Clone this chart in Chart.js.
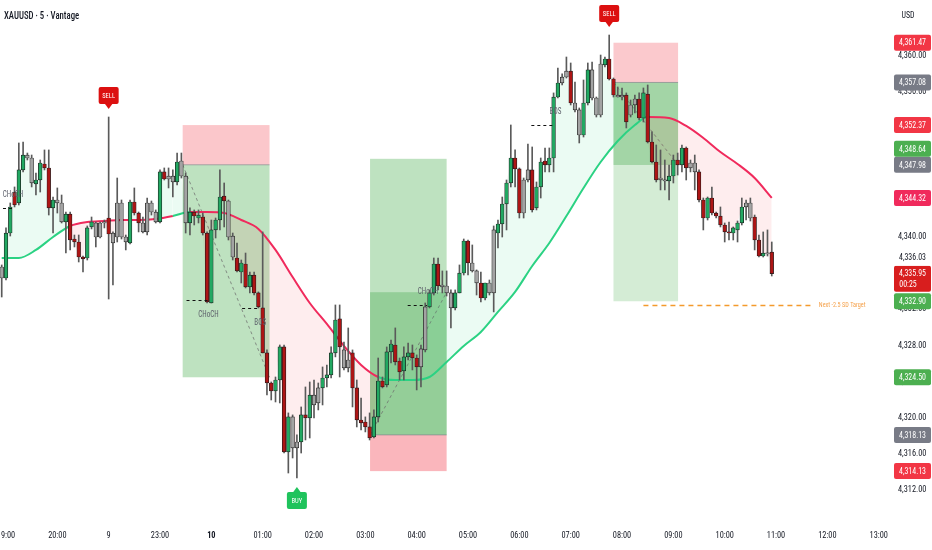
<!DOCTYPE html>
<html>
<head>
<meta charset="utf-8">
<script src="https://cdn.jsdelivr.net/npm/chart.js@4.4.1/dist/chart.umd.min.js"></script>
<style>
html,body{margin:0;padding:0;background:#ffffff;overflow:hidden;}
#wrap{position:relative;width:932px;height:550px;}
canvas{display:block;}
</style>
</head>
<body>
<div id="wrap"><canvas id="chart" width="932" height="550"></canvas></div>
<script>
// ---------- DATA (5-minute candles, index 0 = 19:00) ----------
const firstIndex = -1;
const timeLabels = ['19:00','20:00','9','23:00','10','01:00','02:00','03:00','04:00','05:00','06:00','07:00','08:00','09:00','10:00','11:00','12:00','13:00'];
const priceTicks = [4312,4316,4320,4324,4328,4332,4336,4340,4344,4348,4352,4356,4360];

const opens = [
4336.69,4335.47,4340.44,4344.97,4343.76,4347.41,4349.06,4348.73,4345.86,4346.30,
4348.07,4347.63,4343.21,4344.09,4343.76,4341.66,4342.54,4339.78,4339.45,4337.79,
4337.68,4341.11,4341.55,4340.00,4341.55,4342.10,4340.44,4340.00,4343.76,4340.00,
4339.34,4343.87,4342.65,4341.55,4340.56,4343.76,4342.76,4341.66,4347.19,4346.41,
4346.74,4346.08,4348.40,4346.74,4341.55,4342.76,4342.10,4342.21,4340.44,4332.71,
4340.78,4341.88,4344.53,4343.98,4340.11,4337.68,4336.13,4337.02,4334.48,4335.80,
4333.82,4332.16,4327.19,4323.87,4322.99,4324.20,4327.85,4316.25,4320.12,4316.69,
4317.35,4320.34,4320.00,4322.54,4321.66,4323.32,4324.42,4324.76,4327.19,4330.95,
4327.52,4325.53,4327.19,4323.32,4319.78,4319.56,4319.01,4317.90,4320.12,4324.09,
4323.65,4327.30,4328.07,4326.30,4325.20,4326.75,4327.19,4326.63,4325.64,4327.52,
4332.27,4333.82,4337.02,4334.70,4334.59,4333.82,4332.16,4333.82,4336.02,4339.56,
4337.13,4336.25,4334.92,4333.26,4334.92,4333.82,4340.44,4341.44,4343.65,4345.97,
4348.73,4347.52,4342.65,4346.30,4347.41,4343.21,4345.53,4348.40,4347.96,4348.73,
4355.47,4357.02,4357.68,4358.34,4354.81,4354.04,4351.27,4354.81,4358.46,4355.36,
4353.48,4359.01,4359.67,4357.46,4355.69,4355.47,4355.69,4353.48,4354.59,4355.25,
4353.15,4355.80,4350.50,4348.29,4346.52,4346.30,4346.19,4346.74,4348.51,4347.96,
4349.84,4347.63,4348.18,4347.19,4344.09,4342.10,4344.31,4342.65,4342.32,4341.33,
4340.56,4340.44,4340.78,4341.55,4343.32,4343.76,4342.21,4339.67,4337.90,4338.23,
4338.34];
const highs = [
4336.91,4341.00,4343.76,4345.53,4350.39,4350.50,4349.28,4349.06,4347.07,4348.51,
4349.62,4349.62,4344.42,4345.42,4344.64,4342.76,4342.76,4340.22,4340.22,4337.90,
4341.22,4342.21,4341.66,4341.66,4341.88,4353.26,4340.56,4346.52,4344.09,4340.22,
4344.09,4345.42,4342.76,4342.21,4344.31,4343.98,4342.99,4347.41,4347.63,4347.63,
4347.41,4349.28,4349.28,4347.07,4343.21,4342.99,4342.99,4342.65,4340.56,4341.88,
4342.10,4347.41,4345.97,4344.09,4340.44,4339.34,4337.46,4338.23,4336.13,4336.13,
4333.93,4340.56,4327.52,4323.98,4324.53,4328.07,4328.07,4320.56,4320.34,4318.13,
4321.22,4323.43,4323.98,4324.20,4323.87,4325.64,4325.86,4327.85,4332.49,4332.49,
4328.40,4329.95,4327.52,4324.20,4322.21,4320.12,4320.56,4320.89,4326.63,4324.53,
4327.85,4328.62,4329.95,4326.63,4327.85,4328.29,4328.07,4326.97,4328.07,4332.71,
4334.15,4337.68,4337.68,4336.25,4336.25,4334.15,4334.15,4336.91,4339.78,4339.67,
4339.12,4336.36,4336.13,4334.92,4335.25,4341.22,4341.88,4344.42,4346.30,4352.38,
4349.62,4347.63,4346.52,4350.28,4349.95,4346.08,4348.73,4349.84,4349.84,4355.92,
4358.68,4358.02,4359.89,4359.23,4357.13,4354.26,4357.35,4359.23,4359.34,4355.47,
4360.11,4359.89,4362.32,4357.57,4356.58,4356.47,4355.92,4355.14,4355.69,4355.92,
4356.47,4356.80,4351.61,4350.17,4349.62,4348.51,4347.96,4349.06,4349.28,4350.17,
4349.95,4348.51,4349.06,4347.41,4344.31,4344.42,4345.53,4342.76,4343.32,4341.55,
4341.66,4341.11,4341.77,4344.31,4344.09,4344.31,4342.43,4340.22,4340.56,4340.78,
4339.45];
const lows = [
4333.37,4335.25,4340.11,4343.32,4343.54,4347.19,4348.51,4345.53,4344.64,4344.97,
4347.41,4342.43,4340.44,4342.65,4341.55,4338.23,4338.57,4338.90,4337.24,4336.13,
4337.46,4340.89,4338.90,4339.89,4341.00,4333.15,4334.70,4339.45,4339.78,4338.57,
4339.23,4342.43,4340.56,4340.44,4340.22,4342.43,4341.55,4341.55,4346.30,4345.42,
4344.42,4345.75,4346.52,4340.44,4340.22,4341.33,4341.55,4340.22,4332.71,4332.71,
4339.89,4340.78,4341.11,4339.67,4337.46,4336.13,4334.92,4334.37,4333.82,4333.59,
4332.16,4327.19,4322.54,4321.99,4321.77,4321.66,4316.13,4313.92,4315.58,4313.37,
4316.13,4317.57,4317.79,4320.00,4320.89,4321.44,4323.43,4324.42,4326.75,4324.53,
4325.31,4325.09,4321.22,4319.01,4318.68,4318.46,4317.57,4317.79,4319.56,4323.32,
4323.43,4326.08,4325.86,4324.20,4324.20,4326.41,4325.31,4323.10,4323.43,4327.30,
4332.16,4333.59,4334.15,4333.82,4333.48,4329.95,4331.94,4333.82,4335.80,4335.80,
4336.13,4333.59,4332.82,4333.04,4333.59,4331.72,4338.79,4340.00,4340.78,4345.53,
4345.53,4342.10,4342.10,4346.08,4342.76,4342.99,4344.31,4347.19,4347.19,4347.19,
4355.36,4356.80,4357.57,4354.59,4353.81,4350.39,4351.05,4354.59,4355.14,4353.26,
4353.26,4358.79,4357.35,4355.47,4355.47,4355.14,4352.05,4353.26,4353.70,4352.93,
4352.71,4350.39,4348.18,4346.08,4345.20,4345.20,4344.09,4345.97,4346.85,4347.19,
4346.30,4347.19,4345.20,4343.87,4340.78,4341.88,4342.43,4342.10,4341.11,4339.45,
4339.67,4339.67,4339.45,4341.33,4341.88,4341.77,4338.57,4337.79,4337.79,4337.90,
4335.69];
const closes = [
4335.47,4340.44,4343.32,4343.54,4347.41,4349.06,4348.73,4345.97,4346.30,4348.18,
4347.63,4343.21,4344.09,4343.76,4341.66,4342.54,4339.67,4339.45,4337.79,4337.57,
4341.00,4341.66,4340.00,4341.55,4341.66,4340.33,4339.34,4343.76,4340.00,4339.45,
4343.87,4342.65,4341.55,4340.56,4343.76,4342.76,4341.66,4347.19,4346.41,4346.74,
4346.08,4348.29,4346.74,4341.55,4342.76,4342.32,4342.43,4340.44,4332.82,4340.78,
4341.88,4344.42,4343.98,4340.00,4337.79,4336.25,4337.13,4334.48,4335.80,4333.82,
4332.27,4327.19,4323.87,4322.99,4324.20,4327.85,4316.25,4320.12,4316.69,4317.35,
4320.34,4320.00,4322.54,4321.44,4323.32,4324.42,4324.76,4327.19,4330.83,4327.85,
4325.53,4326.41,4323.32,4319.78,4319.45,4319.01,4317.79,4320.12,4324.09,4323.43,
4327.30,4328.18,4326.19,4325.09,4326.75,4327.19,4326.63,4325.64,4327.63,4332.27,
4333.82,4337.02,4334.59,4334.48,4333.82,4332.16,4333.82,4336.02,4339.56,4337.13,
4336.25,4334.92,4333.26,4334.92,4333.82,4340.78,4341.44,4343.65,4345.97,4348.73,
4347.52,4342.65,4346.30,4347.41,4342.99,4345.53,4348.29,4347.96,4348.73,4355.47,
4357.02,4357.68,4358.34,4354.81,4354.04,4351.27,4354.81,4358.46,4355.36,4353.48,
4359.12,4359.67,4357.46,4355.69,4355.47,4355.69,4352.71,4354.59,4355.25,4353.15,
4355.92,4350.50,4348.29,4346.30,4346.30,4346.19,4346.74,4348.51,4347.96,4349.84,
4347.63,4348.18,4347.19,4344.09,4342.10,4344.31,4342.65,4342.32,4341.33,4340.56,
4340.44,4341.00,4341.55,4343.32,4343.76,4342.10,4339.67,4337.90,4338.23,4338.12,
4335.95];
// candle colouring: g = bullish, r = bearish, n = neutral (grey)
const tones = ("nggrggnngg"+"rrgnngrrrr"+"ggnnnrnnnn"+"grrnnnngrn"+"ngnngrgrrg"+
               "ggrnnrgrgr"+"rrrrggrgnn"+"grgnnggggr"+"nnrrrrrggr"+"ggrrggrrnn"+
               "ggrnnngggr"+"nnrgnngggg"+"rrnnrggrgg"+"gnnrnnggnn"+"ngrrnnrnnr"+
               "grrrnnggrg"+"rnnrrgrrrr"+"rgggnnrrgn"+"r").split('');

// moving average
const maIdx = [-1,3,7,11,15,19,23,27,31,35,39,43,47,51,55,59,63,67,71,75,79,83,87,91,95,99,103,107,111,115,119,123,127,131,135,139,143,147,150,155,159,163,167,171,175,179];
const maValues = [4337.68,4337.68,4338.57,4340.00,4341.22,4341.66,4341.77,4341.88,4341.88,4341.99,4342.32,4342.76,4342.76,4342.65,4341.88,4340.89,4338.57,4335.58,4332.71,4330.39,4327.96,4325.86,4324.53,4324.20,4324.20,4324.53,4326.19,4327.96,4329.50,4331.72,4333.93,4336.80,4339.34,4342.32,4345.42,4348.29,4350.61,4352.38,4353.26,4353.15,4352.27,4350.94,4349.39,4348.07,4346.52,4344.32];
const maTrend = ("uuuuu"+"dddddd"+"u"+"ddddddddddd"+"uuuuuuuuuuuuuuuu"+"ddddddd").split('');

// position boxes
const boxStart    = [41.3, 85.1, 142.0];
const boxEnd      = [61.6, 103.0, 157.1];
const boxStop     = [4352.37, 4314.13, 4361.47];
const boxEntry    = [4347.98, 4318.13, 4357.08];
const boxTarget   = [4324.50, 4348.64, 4332.90];
const boxExit     = [4324.50, 4333.90, 4347.96];
const boxProgress = [null, 4333.90, 4347.96];

// structure breaks
const structStart = [-0.7, 42.2, 55.2, 93.9, 122.8];
const structEnd   = [1.4, 47.1, 59.2, 98.4, 128.2];
const structPrice = [4343.21, 4333.04, 4332.16, 4332.49, 4352.38];
const structLabel = ['CHoCH','CHoCH','BOS','CHoCH','BOS'];
const structSide  = ['above','below','below','above','above'];

// signals
const sellIdx = [24, 141];
const buyIdx  = [68];

// projected target
const nextTargetPrice = 4332.49;
const nextTargetFrom = 149;
const nextTargetTo = 188.6;
const nextTargetText = 'Next -2.5 SD Target';

// right-axis tags
const tagPrices = [4361.47,4357.08,4352.37,4348.64,4347.98,4344.32,4336.03,4335.95,4332.90,4324.50,4318.13,4314.13];
const tagKinds  = ['stop','entry','stop','target','entry','ma','plain','last','target','target','entry','stop'];
const countdownText = '00:25';
const titleText = 'XAUUSD \u00b7 5 \u00b7 Vantage';
const currencyText = 'USD';

// ---------- RENDER ----------
function fontAvailable(name){
  const c = document.createElement('canvas').getContext('2d');
  const s = 'mmmmmmmmmmlli0123456789WWabc';
  return ['monospace','serif'].some(base => {
    c.font = '40px ' + base; const w0 = c.measureText(s).width;
    c.font = "40px '" + name + "', " + base; const w1 = c.measureText(s).width;
    return Math.abs(w0 - w1) > 0.5;
  });
}
const narrowCandidates = ['Roboto Condensed','Liberation Sans Narrow','DejaVu Sans Condensed','Noto Sans Condensed','Open Sans Condensed','Arial Narrow'];
const narrow = narrowCandidates.find(fontAvailable);
const FONT = (narrow ? "'" + narrow + "'," : "") + "Roboto,'Liberation Sans',sans-serif";
const measCtx = document.createElement('canvas').getContext('2d');
measCtx.font = '9px ' + FONT;
const refW = measCtx.measureText('4,340.00').width;
const SX = Math.min(1, 27 / refW);            // horizontal condensing for hand-drawn text
const TICK_SIZE = Math.max(7.3, Math.min(9, 9 * 28.5 / refW));

const toneColor = {g:'#22a862', r:'#ad1515', n:'#a3a3a3'};
const MA_UP = '#2bd283', MA_DN = '#f02a5c';
const idx = closes.map((_, i) => firstIndex + i);
function fmt(v){ return v.toLocaleString('en-US',{minimumFractionDigits:2,maximumFractionDigits:2}); }
function rr(ctx,x,y,w,h,r){ctx.beginPath();ctx.moveTo(x+r,y);ctx.lineTo(x+w-r,y);ctx.quadraticCurveTo(x+w,y,x+w,y+r);ctx.lineTo(x+w,y+h-r);ctx.quadraticCurveTo(x+w,y+h,x+w-r,y+h);ctx.lineTo(x+r,y+h);ctx.quadraticCurveTo(x,y+h,x,y+h-r);ctx.lineTo(x,y+r);ctx.quadraticCurveTo(x,y,x+r,y);ctx.closePath();}
function cText(ctx, text, x, y, size, align, sx, weight){
  ctx.save();
  ctx.font = (weight ? weight + ' ' : '') + size + 'px ' + FONT;
  ctx.textAlign = align; ctx.textBaseline = 'middle';
  ctx.translate(x, y); ctx.scale(sx, 1);
  ctx.fillText(text, 0, 0);
  ctx.restore();
}

const tagStyle = {
  stop:{bg:'#f23645',fg:'#fff'}, entry:{bg:'#787b86',fg:'#fff'}, target:{bg:'#4caf50',fg:'#fff'},
  ma:{bg:'#f02a5c',fg:'#fff'}, plain:{bg:'#ffffff',fg:'#131722'}, last:{bg:'#d81e1e',fg:'#fff'}
};
const boxBaseAlpha = [0.36, 0.36, 0.24];
const boxStopAlpha = [0.28, 0.36, 0.27];

const overlay = {
  id:'overlay',
  beforeDatasetsDraw(chart){
    const {ctx, scales:{x,y}, chartArea:a} = chart;
    ctx.save();
    ctx.beginPath(); ctx.rect(a.left,a.top,a.right-a.left,a.bottom-a.top); ctx.clip();
    for (let i=0;i<boxStart.length;i++){
      const x0=x.getPixelForValue(boxStart[i]), x1=x.getPixelForValue(boxEnd[i]);
      const ye=y.getPixelForValue(boxEntry[i]), ys=y.getPixelForValue(boxStop[i]);
      const yt=y.getPixelForValue(boxTarget[i]), yx=y.getPixelForValue(boxExit[i]);
      ctx.fillStyle='rgba(242,54,69,'+boxStopAlpha[i]+')';
      ctx.fillRect(x0, Math.min(ye,ys), x1-x0, Math.abs(ys-ye));
      ctx.fillStyle='rgba(76,175,80,'+boxBaseAlpha[i]+')';
      ctx.fillRect(x0, Math.min(ye,yt), x1-x0, Math.abs(yt-ye));
      if (boxProgress[i] !== null){
        const yp = y.getPixelForValue(boxProgress[i]);
        ctx.fillStyle='rgba(60,165,70,0.33)';
        ctx.fillRect(x0, Math.min(ye,yp), x1-x0, Math.abs(yp-ye));
      }
      ctx.strokeStyle='rgba(120,123,134,0.6)'; ctx.lineWidth=1;
      ctx.beginPath(); ctx.moveTo(x0,ye); ctx.lineTo(x1,ye); ctx.stroke();
      ctx.setLineDash([3,3]); ctx.strokeStyle='rgba(110,110,110,0.75)';
      ctx.beginPath(); ctx.moveTo(x0,ye); ctx.lineTo(x1,yx); ctx.stroke();
      ctx.setLineDash([]);
    }
    ctx.restore();
  },
  afterDatasetsDraw(chart){
    const {ctx, scales:{x,y}} = chart;
    ctx.save();
    // structure lines
    for (let i=0;i<structStart.length;i++){
      const x0=x.getPixelForValue(structStart[i]), x1=x.getPixelForValue(structEnd[i]);
      const yy=Math.round(y.getPixelForValue(structPrice[i]))+0.5;
      ctx.strokeStyle='#111'; ctx.lineWidth=1; ctx.setLineDash([3,3]);
      ctx.beginPath(); ctx.moveTo(x0,yy); ctx.lineTo(x1,yy); ctx.stroke();
      ctx.setLineDash([]);
      ctx.fillStyle='#5d606b';
      cText(ctx, structLabel[i], x1+1, yy + (structSide[i]==='above' ? -14 : 14), 8.5, 'center', SX*0.95);
    }
    // next target line
    const ny = Math.round(y.getPixelForValue(nextTargetPrice))+0.5;
    const nx0 = x.getPixelForValue(nextTargetFrom), nx1 = x.getPixelForValue(nextTargetTo);
    ctx.strokeStyle='#f49a2c'; ctx.lineWidth=1.5; ctx.setLineDash([5,4]);
    ctx.beginPath(); ctx.moveTo(nx0,ny); ctx.lineTo(nx1,ny); ctx.stroke(); ctx.setLineDash([]);
    ctx.fillStyle='#f5a049';
    cText(ctx, nextTargetText, nx1+6, ny, 7, 'left', SX);
    // signals
    const drawSig = (k, text, color, down) => {
      const i = k - firstIndex;
      const cx = x.getPixelForValue(k);
      const w=20,h=17,tri=5;
      const tip = down ? y.getPixelForValue(highs[i]) - 8 : y.getPixelForValue(lows[i]) + 9;
      const top = down ? tip - tri - h : tip + tri;
      ctx.fillStyle=color;
      rr(ctx, cx-w/2, top, w, h, 2); ctx.fill();
      ctx.beginPath();
      if (down){ ctx.moveTo(cx-4, top+h-0.5); ctx.lineTo(cx+4, top+h-0.5); ctx.lineTo(cx, tip); }
      else { ctx.moveTo(cx-4, top+0.5); ctx.lineTo(cx+4, top+0.5); ctx.lineTo(cx, tip); }
      ctx.closePath(); ctx.fill();
      ctx.fillStyle='#fff';
      cText(ctx, text, cx, top+h/2+0.5, 7.5, 'center', SX);
    };
    sellIdx.forEach(k=>drawSig(k,'SELL','#dc1010',true));
    buyIdx.forEach(k=>drawSig(k,'BUY','#1fc35c',false));
    ctx.restore();
  },
  afterDraw(chart){
    const {ctx, scales:{y}} = chart;
    ctx.save();
    ctx.fillStyle='#131722';
    cText(ctx, titleText, 4, 16, 10, 'left', SX, '500');
    cText(ctx, currencyText, 908, 16, 9, 'center', SX);
    // tags, resolved bottom-up
    const order = tagPrices.map((p,i)=>i).sort((a,b)=>tagPrices[a]-tagPrices[b]);
    let prevTop = Infinity;
    for (const i of order){
      const kind = tagKinds[i];
      const st = tagStyle[kind];
      const upExt = 8, dnExt = kind==='last' ? 18 : 8;
      let yy = y.getPixelForValue(tagPrices[i]);
      if (yy + dnExt > prevTop) yy = prevTop - dnExt;
      prevTop = yy - upExt;
      ctx.fillStyle = st.bg;
      rr(ctx, 894, yy-upExt, 37, upExt+dnExt, 2); ctx.fill();
      ctx.fillStyle = st.fg;
      cText(ctx, fmt(tagPrices[i]), 912.5, yy+0.5, 9, 'center', SX);
      if (kind==='last') cText(ctx, countdownText, 908, yy+11.5, 9, 'center', SX);
    }
    ctx.restore();
  }
};

new Chart(document.getElementById('chart'), {
  type:'bar',
  data:{
    datasets:[
      {type:'bar', label:'body', data: idx.map((k,i)=>({x:k, y:[opens[i], closes[i]]})),
       backgroundColor: tones.map(t=>toneColor[t]), borderColor:'#1c1c1c', borderWidth:0.7,
       borderSkipped:false, barThickness:3.7, minBarLength:1.2, grouped:false, order:1},
      {type:'bar', label:'wick', data: idx.map((k,i)=>({x:k, y:[lows[i], highs[i]]})),
       backgroundColor:'#5a5a5a', borderWidth:0, barThickness:1, grouped:false, order:2},
      {type:'line', label:'close', data: idx.map((k,i)=>({x:k, y:closes[i]})),
       borderWidth:0, borderColor:'rgba(0,0,0,0)', pointRadius:0, fill:false, order:6},
      {type:'line', label:'ma', data: maIdx.map((k,i)=>({x:k, y:maValues[i]})),
       borderWidth:2, pointRadius:0, cubicInterpolationMode:'monotone',
       borderColor: MA_DN,
       segment:{ borderColor: c => maTrend[c.p1DataIndex]==='u' ? MA_UP : MA_DN },
       fill:{ target:2, above:'rgba(242,54,69,0.09)', below:'rgba(38,208,124,0.09)' },
       order:5}
    ]
  },
  options:{
    responsive:false, animation:false, maintainAspectRatio:false,
    layout:{padding:0},
    plugins:{legend:{display:false}, tooltip:{enabled:false}},
    scales:{
      x:{type:'linear', min:-1.4, max:204.3, offset:false,
         grid:{display:false, drawTicks:false}, border:{display:false},
         ticks:{padding:16, autoSkip:false, maxRotation:0, color:'#131722',
                font: c => ({family:FONT, size:TICK_SIZE, weight: (c.tick && c.tick.value===48) ? 'bold' : 'normal'}),
                callback: v => timeLabels[Math.round(v/12)] ?? ''},
         afterBuildTicks: ax => { ax.ticks = timeLabels.map((_,i)=>({value:i*12})); },
         afterFit: ax => { ax.height = 35; ax.paddingLeft = 0; ax.paddingRight = 0; }},
      y:{type:'linear', position:'right', min:4309.28, max:4366.19,
         grid:{display:false, drawTicks:false}, border:{display:false},
         ticks:{padding:18, crossAlign:'center', color:'#131722', font:{family:FONT, size:TICK_SIZE},
                callback: v => fmt(v)},
         afterBuildTicks: ax => { ax.ticks = priceTicks.map(v=>({value:v})); },
         afterFit: ax => { ax.width = 52; ax.paddingTop = 0; ax.paddingBottom = 0; }}
    }
  },
  plugins:[overlay]
});
</script>
</body>
</html>
